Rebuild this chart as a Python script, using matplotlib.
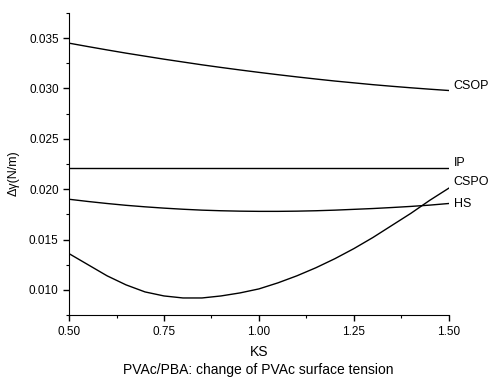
import numpy as np
import matplotlib.pyplot as plt
from matplotlib.ticker import MultipleLocator, FormatStrFormatter

plt.rcParams['font.family'] = ['Liberation Sans', 'DejaVu Sans']

# ----------------------------------------------------------------------------------------------------------------------

ks = [0.50, 0.55, 0.60, 0.65, 0.70, 0.75, 0.80, 0.85, 0.90, 0.95, 1.00,
      1.05, 1.10, 1.15, 1.20, 1.25, 1.30, 1.35, 1.40, 1.45, 1.50]
csop = [0.03450, 0.03416, 0.03383, 0.03351, 0.03321, 0.03291, 0.03263, 0.03235, 0.03209, 0.03184, 0.03160,
        0.03137, 0.03115, 0.03094, 0.03074, 0.03056, 0.03038, 0.03022, 0.03007, 0.02993, 0.02980]
ip = [0.0221] * len(ks)
hs = [0.01900, 0.01878, 0.01858, 0.01840, 0.01825, 0.01812, 0.01801, 0.01792, 0.01786, 0.01782, 0.01780,
      0.01780, 0.01782, 0.01786, 0.01792, 0.01800, 0.01808, 0.01818, 0.01829, 0.01842, 0.01858]
cspo = [0.0136, 0.0125, 0.0114, 0.0105, 0.0098, 0.0094, 0.0092, 0.0092, 0.0094, 0.0097, 0.0101,
        0.0107, 0.0114, 0.0122, 0.0131, 0.0141, 0.0152, 0.0164, 0.0176, 0.0189, 0.0201]

series = [('CSOP', csop, 0.0302), ('IP', ip, 0.0226), ('CSPO', cspo, 0.0207), ('HS', hs, 0.0185)]

# ----------------------------------------------------------------------------------------------------------------------

fig = plt.figure(figsize=(4.97, 3.81), dpi=100)
ax = fig.add_axes([0.139, 0.173, 0.764, 0.793])

for name, vals, ylab in series:
    ax.plot(ks, vals, color='black', lw=1.0)
    ax.text(1.513, ylab, name, fontsize=9, va='center', ha='left', clip_on=False)

ax.set_xlim(0.5, 1.5)
ax.set_ylim(0.0075, 0.0375)
ax.xaxis.set_major_locator(MultipleLocator(0.25))
ax.xaxis.set_minor_locator(MultipleLocator(0.125))
ax.yaxis.set_major_locator(MultipleLocator(0.005))
ax.yaxis.set_minor_locator(MultipleLocator(0.0025))
ax.xaxis.set_major_formatter(FormatStrFormatter('%.2f'))
ax.yaxis.set_major_formatter(FormatStrFormatter('%.3f'))

for s in ['top', 'right']:
    ax.spines[s].set_visible(False)
ax.tick_params(which='major', direction='out', length=4, width=1, labelsize=8.5)
ax.tick_params(which='minor', direction='out', length=2.5, width=0.8)

ax.set_ylabel('Δγ(N/m)', fontsize=9)
ax.yaxis.set_label_coords(-0.13, 0.47)
ax.set_xlabel('KS', fontsize=10)
ax.xaxis.set_label_coords(0.5, -0.10)
fig.text(0.52, 0.03, 'PVAc/PBA: change of PVAc surface tension', fontsize=10, ha='center', va='center')

fig.savefig('out.png', dpi=100)
